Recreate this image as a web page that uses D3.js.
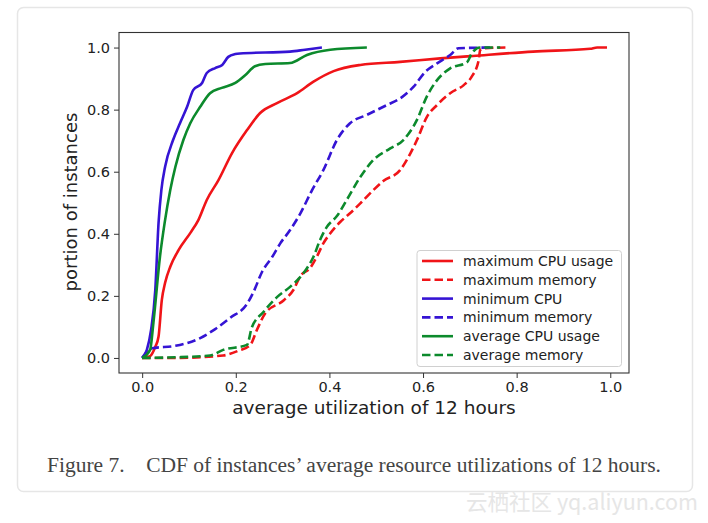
<!DOCTYPE html>
<html>
<head>
<meta charset="utf-8">
<script src="https://cdn.jsdelivr.net/npm/d3@7"></script>
<style>
  html, body { margin: 0; padding: 0; background: #fff; }
  svg { display: block; }
</style>
</head>
<body>
<svg id="chart" width="708" height="523"></svg>
<script>
// ---- data (x = utilization, y = portion of instances) ----
const xTicks = [0.0, 0.2, 0.4, 0.6, 0.8, 1.0];
const yTicks = [0.0, 0.2, 0.4, 0.6, 0.8, 1.0];

const maxCpuX = [0, 0.017, 0.028, 0.035, 0.042, 0.049, 0.060, 0.078, 0.103, 0.120, 0.138, 0.163, 0.192, 0.224, 0.252, 0.288, 0.331, 0.366, 0.409, 0.466, 0.551, 0.637, 0.707, 0.835, 0.957, 0.972, 0.993];
const maxCpuY = [0, 0.006, 0.036, 0.069, 0.187, 0.242, 0.294, 0.348, 0.403, 0.444, 0.509, 0.573, 0.660, 0.734, 0.789, 0.821, 0.853, 0.890, 0.924, 0.944, 0.954, 0.965, 0.973, 0.987, 0.996, 1.0, 1.0];

const maxMemX = [0, 0.071, 0.173, 0.205, 0.231, 0.245, 0.263, 0.302, 0.323, 0.338, 0.359, 0.373, 0.387, 0.402, 0.423, 0.444, 0.466, 0.494, 0.515, 0.551, 0.573, 0.587, 0.608, 0.630, 0.658, 0.687, 0.704, 0.719, 0.722, 0.733, 0.776];
const maxMemY = [0, 0.0, 0.008, 0.023, 0.042, 0.090, 0.144, 0.185, 0.219, 0.264, 0.290, 0.326, 0.369, 0.402, 0.438, 0.466, 0.498, 0.541, 0.570, 0.605, 0.659, 0.702, 0.776, 0.815, 0.853, 0.879, 0.906, 0.960, 0.992, 0.998, 1.0];

const minCpuX = [0, 0.010, 0.019, 0.028, 0.035, 0.041, 0.049, 0.066, 0.081, 0.096, 0.109, 0.128, 0.138, 0.156, 0.171, 0.184, 0.199, 0.209, 0.316, 0.348, 0.384];
const minCpuY = [0, 0.026, 0.090, 0.219, 0.435, 0.541, 0.616, 0.702, 0.757, 0.809, 0.863, 0.886, 0.918, 0.934, 0.944, 0.970, 0.979, 0.981, 0.987, 0.993, 1.0];

const minMemX = [0, 0.009, 0.021, 0.071, 0.124, 0.156, 0.188, 0.224, 0.238, 0.256, 0.278, 0.295, 0.316, 0.338, 0.363, 0.387, 0.416, 0.444, 0.480, 0.523, 0.551, 0.580, 0.605, 0.630, 0.658, 0.676, 0.744];
const minMemY = [0, 0.019, 0.031, 0.039, 0.064, 0.093, 0.129, 0.174, 0.213, 0.277, 0.326, 0.369, 0.412, 0.466, 0.541, 0.605, 0.702, 0.756, 0.783, 0.815, 0.836, 0.874, 0.922, 0.949, 0.976, 0.998, 1.0];

const avgCpuX = [0, 0.017, 0.024, 0.038, 0.048, 0.060, 0.071, 0.088, 0.103, 0.124, 0.145, 0.170, 0.199, 0.220, 0.241, 0.263, 0.316, 0.352, 0.402, 0.480];
const avgCpuY = [0, 0.026, 0.113, 0.326, 0.435, 0.541, 0.616, 0.702, 0.757, 0.809, 0.853, 0.870, 0.886, 0.911, 0.940, 0.947, 0.950, 0.976, 0.993, 1.0];

const avgMemX = [0, 0.071, 0.145, 0.173, 0.224, 0.234, 0.259, 0.288, 0.316, 0.338, 0.352, 0.366, 0.380, 0.395, 0.416, 0.437, 0.466, 0.494, 0.530, 0.558, 0.587, 0.608, 0.630, 0.658, 0.694, 0.704, 0.722, 0.765];
const avgMemY = [0, 0.002, 0.008, 0.026, 0.042, 0.097, 0.148, 0.196, 0.229, 0.261, 0.289, 0.326, 0.380, 0.423, 0.457, 0.509, 0.583, 0.638, 0.675, 0.702, 0.767, 0.842, 0.895, 0.933, 0.953, 0.981, 1.0, 1.0];

const seriesNames = ["maximum CPU usage", "maximum memory", "minimum CPU", "minimum memory", "average CPU usage", "average memory"];
const seriesX = [maxCpuX, maxMemX, minCpuX, minMemX, avgCpuX, avgMemX];
const seriesY = [maxCpuY, maxMemY, minCpuY, minMemY, avgCpuY, avgMemY];
const seriesColor = ["#f01418", "#f01418", "#3514d4", "#3514d4", "#0c8a2c", "#0c8a2c"];
const seriesDashed = [false, true, false, true, false, true];

const xLabel = "average utilization of 12 hours";
const yLabel = "portion of instances";
const caption = "Figure 7.    CDF of instances\u2019 average resource utilizations of 12 hours.";
const watermark = "云栖社区 yq.aliyun.com";

// ---- layout ----
const svg = d3.select("#chart");
const plot = { left: 119, right: 629, top: 32.5, bottom: 373 };

// card background
svg.append("rect")
  .attr("x", 17.5).attr("y", 7.5).attr("width", 675).attr("height", 484)
  .attr("rx", 6).attr("fill", "#fff").attr("stroke", "#e6e6e6").attr("stroke-width", 1.5);

const x = d3.scaleLinear().domain([-0.0495, 1.04]).range([plot.left, plot.right]);
const y = d3.scaleLinear().domain([-0.0485, 1.0485]).range([plot.bottom, plot.top]);

const font = "'DejaVu Sans', sans-serif";

// axes
const xAxis = d3.axisBottom(x).tickValues(xTicks).tickFormat(d3.format(".1f")).tickSize(5).tickPadding(4);
const yAxis = d3.axisLeft(y).tickValues(yTicks).tickFormat(d3.format(".1f")).tickSize(5).tickPadding(4);

const gx = svg.append("g").attr("transform", `translate(0,${plot.bottom})`).call(xAxis);
const gy = svg.append("g").attr("transform", `translate(${plot.left},0)`).call(yAxis);
[gx, gy].forEach(g => {
  g.select(".domain").remove();
  g.selectAll(".tick line").attr("stroke", "#333").attr("stroke-width", 1);
  g.selectAll(".tick text").attr("fill", "#222").style("font-family", font).style("font-size", "14.5px");
});

// lines
const line = d3.line()
  .x(d => x(d[0])).y(d => y(d[1]))
  .curve(d3.curveMonotoneX);

svg.append("clipPath").attr("id", "clip").append("rect")
  .attr("x", plot.left).attr("y", plot.top).attr("width", plot.right - plot.left).attr("height", plot.bottom - plot.top);

const gLines = svg.append("g").attr("clip-path", "url(#clip)");
seriesNames.forEach((name, i) => {
  const pts = seriesX[i].map((v, j) => [v, seriesY[i][j]]);
  gLines.append("path")
    .datum(pts)
    .attr("d", line)
    .attr("fill", "none")
    .attr("stroke", seriesColor[i])
    .attr("stroke-width", 2.6)
    .attr("stroke-linejoin", "round")
    .attr("stroke-dasharray", seriesDashed[i] ? "8.5,4" : null);
});

// frame
svg.append("rect")
  .attr("x", plot.left).attr("y", plot.top)
  .attr("width", plot.right - plot.left).attr("height", plot.bottom - plot.top)
  .attr("fill", "none").attr("stroke", "#333").attr("stroke-width", 1.1);

// legend
const lg = svg.append("g");
lg.append("rect")
  .attr("x", 417).attr("y", 250.5).attr("width", 204.5).attr("height", 116)
  .attr("rx", 3).attr("fill", "rgba(255,255,255,0.85)").attr("stroke", "#d0d0d0").attr("stroke-width", 1);
seriesNames.forEach((name, i) => {
  const yy = 261 + i * 18.8;
  lg.append("line")
    .attr("x1", 422).attr("x2", 453).attr("y1", yy).attr("y2", yy)
    .attr("stroke", seriesColor[i]).attr("stroke-width", 2.6)
    .attr("stroke-dasharray", seriesDashed[i] ? "8.5,4" : null);
  lg.append("text")
    .attr("x", 463).attr("y", yy).attr("dy", "0.35em")
    .attr("fill", "#222")
    .style("font-family", font).style("font-size", "14px")
    .text(name);
});

// axis labels
svg.append("text")
  .attr("x", 374).attr("y", 408).attr("dy", "0.35em")
  .attr("text-anchor", "middle").attr("fill", "#222")
  .style("font-family", font).style("font-size", "18.5px")
  .text(xLabel);
svg.append("text")
  .attr("transform", "translate(71,202) rotate(-90)")
  .attr("dy", "0.35em")
  .attr("text-anchor", "middle").attr("fill", "#222")
  .style("font-family", font).style("font-size", "18px")
  .text(yLabel);

// caption
svg.append("text")
  .attr("x", 47).attr("y", 465).attr("dy", "0.35em")
  .attr("fill", "#444")
  .attr("textLength", 614).attr("lengthAdjust", "spacingAndGlyphs")
  .style("white-space", "pre")
  .style("font-family", "'Liberation Serif', 'Times New Roman', serif").style("font-size", "20px")
  .text(caption);

// watermark
svg.append("text")
  .attr("x", 466).attr("y", 502).attr("dy", "0.35em")
  .attr("fill", "#e6e6e6")
  .attr("textLength", 232).attr("lengthAdjust", "spacingAndGlyphs")
  .style("font-family", "'Noto Sans CJK SC', sans-serif").style("font-size", "22px")
  .text(watermark);
</script>
</body>
</html>
